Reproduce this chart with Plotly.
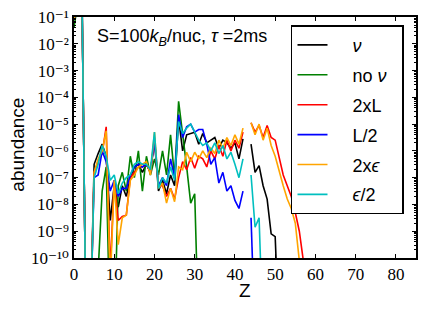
import plotly.graph_objects as go

# Proton number Z
Z = list(range(0, 59))

# log10(abundance) per series; None = no value (gap); values < -10 lie below the axis
log_nu = [-1.1, -0.4, -0.4, -13, -13,
          -6.5, -6.1, -5.75, -6.2, -8.6,
          -7.3, -8.1, -7.3, -7.7, -7.0,
          -6.6, -6.5, -6.8, -6.5, -6.8,
          -5.6, -7.5, -7.1, -7.6, -6.9,
          -7.3, -4.8, -6.0, -5.4, -5.35,
          -5.3, -5.75, -5.35, -5.7, -5.6,
          -5.5, -5.9, -5.6, -5.7, -5.9,
          -5.7, -6.3, -5.55, None, -5.75,
          -6.8, -6.55, -7.3, -7.8, -9.1,
          -9.2, -13, None, None, None,
          None, None, None, None]

log_no_nu = [-1.4, -0.4, -0.4, -13, -13,
             -13, -10.5, -7.5, -6.6, -13,
             -13, -7.3, -6.8, -7.5, -6.2,
             -7.0, -6.0, -7.5, -6.2, -6.9,
             -6.3, -6.9, -6.0, -6.9, -5.4,
             -7.0, -4.15, -5.3, -6.6, -7.95,
             -7.6, -13, None, None, None,
             None, None, None, None, None,
             None, None, None, None, None,
             None, None, None, None, None,
             None, None, None, None, None,
             None, None, None, None]

log_2xL = [-1.1, -0.4, -0.4, -13, -13,
           -6.8, -6.4, -6.1, -5.1, -10.5,
           -7.1, -8.6, -8.45, -8.4, -7.0,
           -6.8, -6.6, -6.6, -6.5, -6.8,
           -5.5, -7.3, -7.3, -7.7, -7.4,
           -7.8, -7.0, -6.4, -6.7, -6.25,
           -6.65, -6.2, -6.3, -6.6, -6.0,
           -6.3, -5.8, -6.2, -5.6, -6.0,
           -5.6, -5.9, -5.3, None, -4.95,
           -5.3, -5.05, -5.5, -5.05, -5.5,
           -5.6, -6.3, -6.9, -7.3, -7.7,
           -8.3, -9.0, -10.1, -13]

log_L2 = [-1.1, -0.4, -0.4, -13, -13,
          -7.0, -6.9, -6.0, -6.4, -7.5,
          -7.1, -7.7, -7.4, -7.4, -6.9,
          -6.6, -6.5, -6.6, -6.5, -6.8,
          -5.6, -7.3, -7.0, -7.3, -6.3,
          -7.0, -4.65, -5.5, -5.1, -5.0,
          -5.3, -5.2, -5.2, -5.75, -6.5,
          -6.25, -7.2, -6.8, -7.5, -7.3,
          -7.85, -8.15, -7.5, None, -8.5,
          -13, None, None, None, None,
          None, None, None, None, None,
          None, None, None, None]

log_2xeps = [-1.1, -0.4, -0.4, -13, -13,
             -6.8, -6.3, -6.0, -5.25, -11,
             -7.1, -9.5, -8.5, -8.4, -7.1,
             -6.9, -6.6, -6.5, -6.4, -6.9,
             -5.3, -7.4, -7.2, -7.95, -7.4,
             -7.9, -6.6, -6.7, -6.05, -6.4,
             -6.05, -6.3, -6.0, -6.25, -5.9,
             -6.1, -5.6, -5.9, -5.5, -5.8,
             -5.4, -5.75, -5.15, None, -4.95,
             -5.4, -5.0, -5.6, -5.15, -5.8,
             -6.2, -6.8, -7.3, -7.8, -8.15,
             -8.7, -10.1, -13, None]

log_eps2 = [-1.0, -0.4, -0.4, -13, -13,
            -7.0, -6.5, -5.8, -6.2, -7.1,
            -6.9, -7.6, -7.2, -7.0, -6.9,
            -6.5, -6.4, -6.5, -6.5, -6.7,
            -5.3, -7.4, -7.0, -7.2, -6.6,
            -7.1, -4.9, -5.35, -5.15, -5.0,
            -5.3, -5.6, -5.8, -5.7, -6.0,
            -5.7, -6.1, -5.8, -6.3, -6.05,
            -6.5, -7.0, -6.3, None, -6.9,
            -8.85, -8.5, -13, None, None,
            None, None, None, None, None,
            None, None, None, None]

names = ["<i>ν</i>", "no <i>ν</i>\u00a0\u00a0", "2xL", "L/2", "2x<i>ϵ</i>", "<i>ϵ</i>/2"]
series = [log_nu, log_no_nu, log_2xL, log_L2, log_2xeps, log_eps2]
colors = ["#000000", "#008000", "#FF0000", "#0000FF", "#FFA500", "#00BFBF"]

ytick_exp = list(range(-10, 0))
xtick_vals = list(range(0, 90, 10))

SUP = str.maketrans("0123456789-", "⁰¹²³⁴⁵⁶⁷⁸⁹⁻")

fig = go.Figure()
pad = "\u00a0\u00a0\u00a0\u00a0"
for name, vals, col in zip(names, series, colors):
    yv = [None if v is None else 10 ** v for v in vals]
    fig.add_trace(go.Scatter(x=Z, y=yv, mode="lines", name=pad + name,
                             legendgroup=name,
                             line=dict(color=col, width=1.6)))

serif = "Liberation Serif, DejaVu Serif, serif"
sans = "Liberation Sans, Arial, DejaVu Sans, sans-serif"

minor_vals = [m * 10 ** e for e in range(-10, -1) for m in range(2, 10)]

fig.update_layout(
    width=421, height=296,
    margin=dict(l=66, r=13, t=9, b=46),
    paper_bgcolor="white", plot_bgcolor="white",
    showlegend=True,
    legend=dict(x=0.6345, y=0.966, xanchor="left", yanchor="top",
                bgcolor="white", bordercolor="black", borderwidth=1.5,
                font=dict(family=sans, size=18, color="black"),
                tracegroupgap=3.5),
    xaxis=dict(range=[0, 85], tickvals=xtick_vals, ticks="inside", ticklen=4,
               tickwidth=1, tickcolor="black", showline=True, linecolor="black",
               linewidth=1.5, mirror="allticks", showgrid=False, zeroline=False,
               automargin=False, ticklabeloverflow="allow",
               tickfont=dict(family=serif, size=17, color="black")),
    yaxis=dict(type="log", range=[-10, -1],
               tickvals=[10 ** e for e in ytick_exp],
               ticktext=["10" + str(e).translate(SUP) for e in ytick_exp],
               ticks="inside", ticklen=4, tickwidth=1, tickcolor="black",
               showline=True, linecolor="black", linewidth=1.5, mirror="allticks",
               showgrid=False, zeroline=False, automargin=False,
               ticklabeloverflow="allow",
               minor=dict(tickvals=minor_vals, ticks="inside", ticklen=2,
                          tickwidth=1, tickcolor="black", showgrid=False),
               tickfont=dict(family=serif, size=17, color="black")),
    annotations=[
        dict(x=0.06, y=0.969, xref="paper", yref="paper",
             xanchor="left", yanchor="top", showarrow=False,
             text="S=100<i>k</i><sub><i>B</i></sub>/nuc, <i>τ</i> =2ms",
             font=dict(family=sans, size=18, color="black")),
        dict(x=-0.164, y=0.47, xref="paper", yref="paper",
             xanchor="center", yanchor="middle", showarrow=False, textangle=-90,
             text="abundance", font=dict(family=sans, size=19, color="black")),
        dict(x=0.5, y=-0.133, xref="paper", yref="paper",
             xanchor="center", yanchor="middle", showarrow=False,
             text="Z", font=dict(family=sans, size=19, color="black")),
    ],
)

fig.write_html("out.html")
